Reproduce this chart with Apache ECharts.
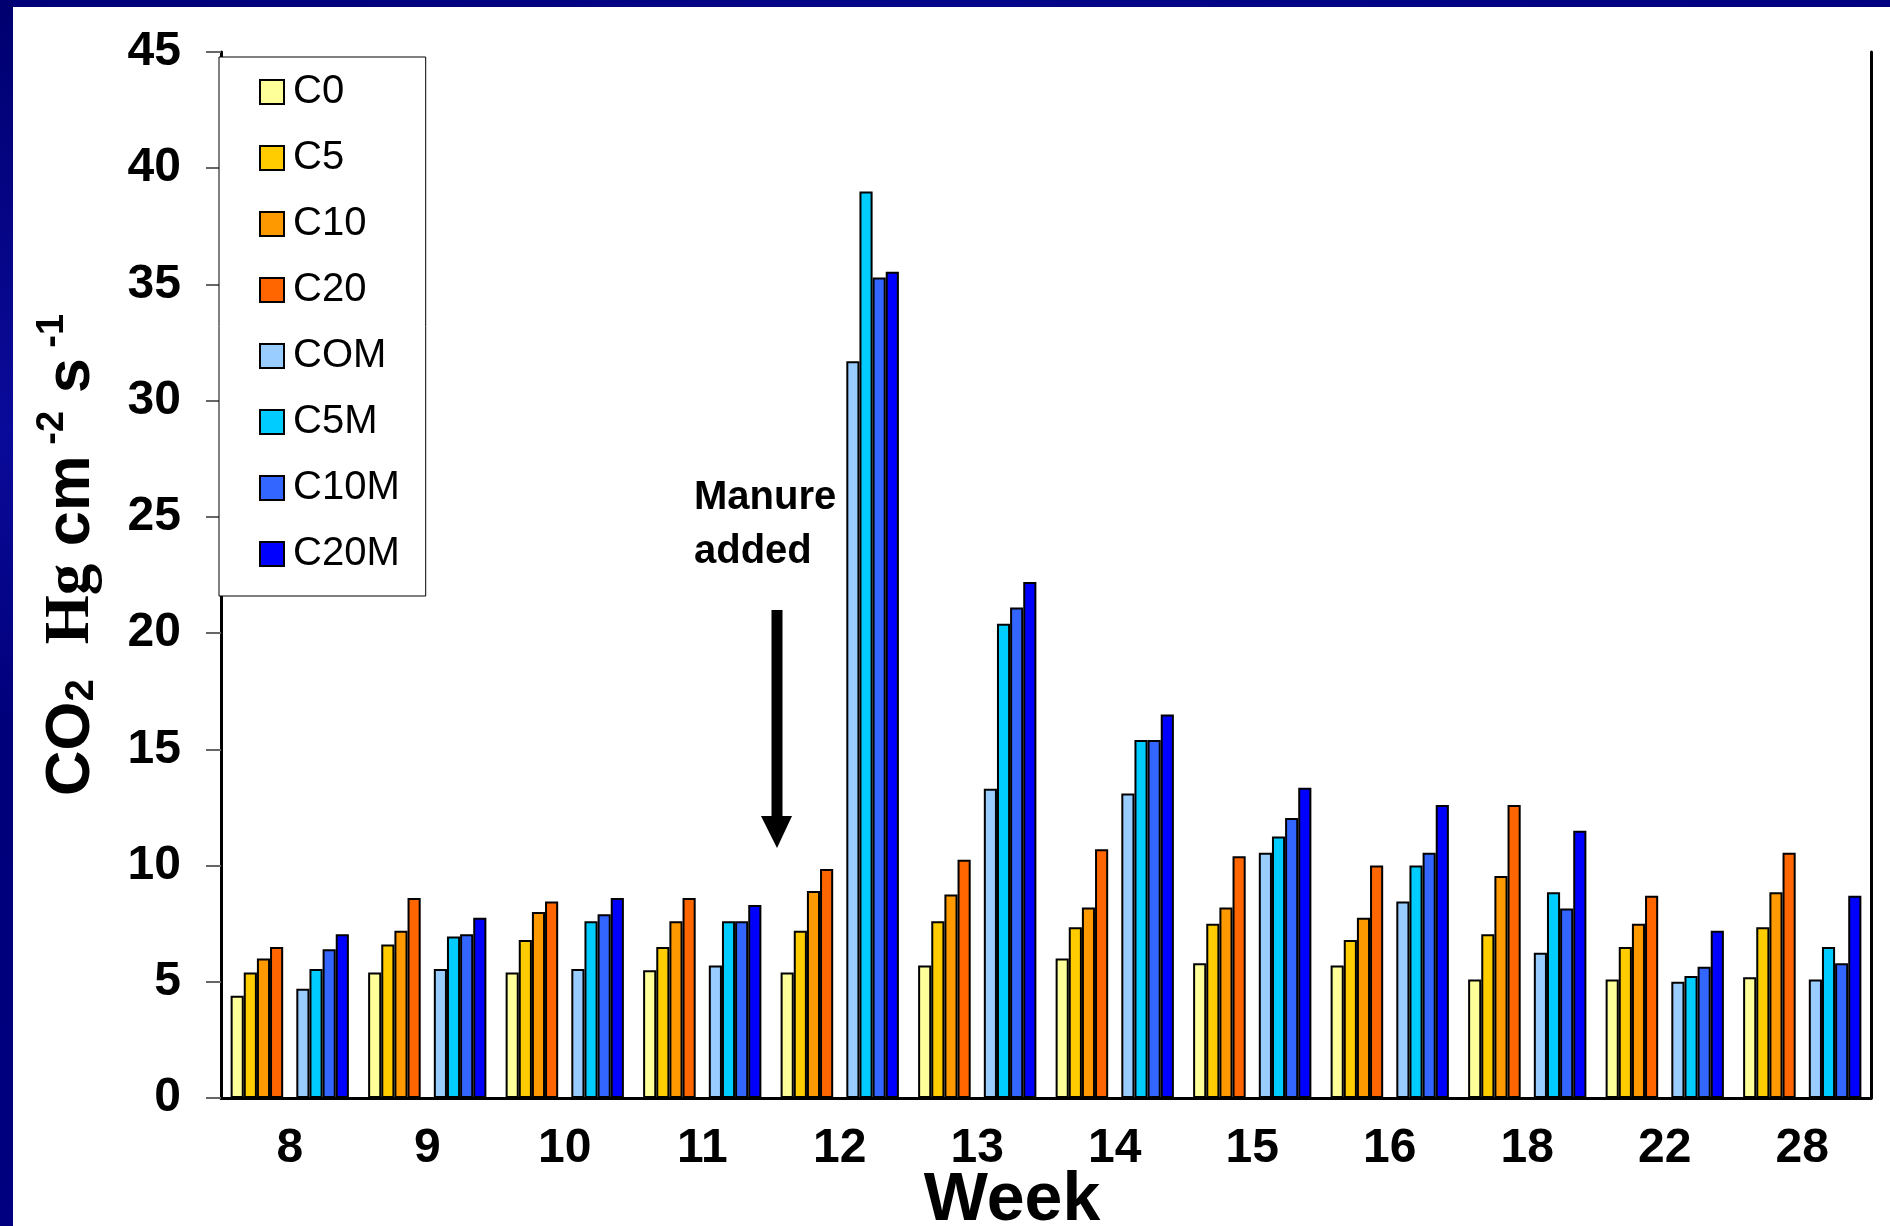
<!DOCTYPE html>
<html>
<head>
<meta charset="utf-8">
<script src="https://cdn.jsdelivr.net/npm/echarts@6/dist/echarts.min.js"></script>
<style>
html,body{margin:0;padding:0;background:#fff;}
#c{width:1890px;height:1226px;}
</style>
</head>
<body>
<div id="c"></div>
<script>
// ---- data ----
const weeks = ['8','9','10','11','12','13','14','15','16','18','22','28'];
const seriesNames = ['C0','C5','C10','C20','COM','C5M','C10M','C20M'];
const C0   = [4.4, 5.4, 5.4, 5.5, 5.4, 5.7, 6.0, 5.8, 5.7, 5.1, 5.1, 5.2];
const C5   = [5.4, 6.6, 6.8, 6.5, 7.2, 7.6, 7.35, 7.5, 6.8, 7.05, 6.5, 7.35];
const C10  = [6.0, 7.2, 8.0, 7.6, 8.9, 8.75, 8.2, 8.2, 7.75, 9.55, 7.5, 8.85];
const C20  = [6.5, 8.6, 8.45, 8.6, 9.85, 10.25, 10.7, 10.4, 10.0, 12.6, 8.7, 10.55];
const COM  = [4.7, 5.55, 5.55, 5.7, 31.7, 13.3, 13.1, 10.55, 8.45, 6.25, 5.0, 5.1];
const C5M  = [5.55, 6.95, 7.6, 7.6, 39.0, 20.4, 15.4, 11.25, 10.0, 8.85, 5.25, 6.5];
const C10M = [6.4, 7.05, 7.9, 7.6, 35.3, 21.1, 15.4, 12.05, 10.55, 8.15, 5.65, 5.8];
const C20M = [7.05, 7.75, 8.6, 8.3, 35.55, 22.2, 16.5, 13.35, 12.6, 11.5, 7.2, 8.7];
const yMin = 0, yMax = 45, yStep = 5;

// ---- styles ----
const FONT = '"Liberation Sans", Arial, sans-serif';
const colors = {
  C0:'#FFFF99', C5:'#FFCC00', C10:'#FF9900', C20:'#FF6600',
  COM:'#99CCFF', C5M:'#00CCFF', C10M:'#3366FF', C20M:'#0000FF'
};

function barSeries(name, data) {
  return {
    name: name, type: 'bar', data: data,
    barGap: '0%', barCategoryGap: '14%',
    itemStyle: { color: colors[name], borderColor: '#000', borderWidth: 2 },
    emphasis: { disabled: true }
  };
}

const chart = echarts.init(document.getElementById('c'), null, { renderer: 'canvas' });

const option = {
  animation: false,
  backgroundColor: '#ffffff',
  grid: { left: 221, top: 52, right: 19, bottom: 128, containLabel: false },
  legend: {
    orient: 'vertical', left: 219, top: 57,
    data: seriesNames,
    icon: 'rect', itemWidth: 24, itemHeight: 24, itemGap: 26,
    padding: [15, 26, 22, 40],
    borderColor: '#000', borderWidth: 1, backgroundColor: '#fff',
    selectedMode: false,
    itemStyle: { borderColor: '#000', borderWidth: 2 },
    textStyle: { fontSize: 40, fontFamily: FONT, color: '#000', lineHeight: 40, padding: [0, 0, 0, 4] }
  },
  xAxis: [
    {
      type: 'category', data: weeks, position: 'bottom',
      axisLine: { lineStyle: { color: '#555', width: 2 } },
      axisTick: { length: 14, lineStyle: { color: '#555', width: 2 } },
      axisLabel: { fontSize: 48, fontWeight: 'bold', fontFamily: FONT, color: '#000', margin: 27 },
      splitLine: { show: false }
    },
    {
      type: 'category', data: weeks, position: 'top',
      axisLine: { lineStyle: { color: '#000', width: 3 } },
      axisTick: { show: false }, axisLabel: { show: false }, splitLine: { show: false }
    }
  ],
  yAxis: [
    {
      type: 'value', min: yMin, max: yMax, interval: yStep,
      axisLine: { show: true, lineStyle: { color: '#000', width: 3 } },
      axisTick: { show: true, length: 15, lineStyle: { color: '#666', width: 2 } },
      axisLabel: { fontSize: 48, fontWeight: 'bold', fontFamily: FONT, color: '#000', margin: 40 },
      splitLine: { show: false }
    },
    {
      type: 'value', min: yMin, max: yMax, interval: yStep, position: 'right',
      axisLine: { show: true, lineStyle: { color: '#000', width: 3 } },
      axisTick: { show: false }, axisLabel: { show: false }, splitLine: { show: false }
    }
  ],
  series: [
    barSeries('C0', C0),
    barSeries('C5', C5),
    barSeries('C10', C10),
    barSeries('C20', C20),
    { name: 'gap', type: 'bar', data: [], barGap: '0%', barCategoryGap: '14%' },
    barSeries('COM', COM),
    barSeries('C5M', C5M),
    barSeries('C10M', C10M),
    barSeries('C20M', C20M)
  ],
  graphic: [
    { type: 'rect', z: 100, shape: { x: 0, y: 0, width: 1890, height: 7 },
      style: { fill: new echarts.graphic.LinearGradient(0, 0, 1, 0, [
        { offset: 0, color: '#000078' }, { offset: 0.5, color: '#06068a' }, { offset: 1, color: '#000080' }]) } },
    { type: 'rect', z: 100, shape: { x: 0, y: 0, width: 13, height: 1226 },
      style: { fill: new echarts.graphic.LinearGradient(0, 0, 0, 1, [
        { offset: 0, color: '#000070' }, { offset: 0.35, color: '#0a0a9a' }, { offset: 0.6, color: '#00007a' }, { offset: 1, color: '#000080' }]) } },
    {
      type: 'text', x: 72, y: 555, rotation: Math.PI / 2, z: 100,
      style: {
        text: '{a|CO}{b|2}{a|  }{h|Hg}{a| cm}{p| -2}{a| s}{p| -1}',
        align: 'center', verticalAlign: 'middle', fill: '#000',
        rich: {
          a: { fontSize: 63, fontWeight: 'bold', fontFamily: FONT, lineHeight: 76 },
          b: { fontSize: 40, fontWeight: 'bold', fontFamily: FONT, lineHeight: 76, verticalAlign: 'bottom', padding: [0, 0, 8, 0] },
          h: { fontSize: 63, fontWeight: 'bold', fontFamily: '"Liberation Serif", serif', lineHeight: 76 },
          p: { fontSize: 38, fontWeight: 'bold', fontFamily: FONT, lineHeight: 76, verticalAlign: 'top' }
        }
      }
    },
    {
      type: 'text', x: 1012, y: 1201, z: 100,
      style: { text: 'Week', fontSize: 68, fontWeight: 'bold', fontFamily: FONT, fill: '#000', align: 'center', verticalAlign: 'middle' }
    },
    {
      type: 'text', x: 694, y: 471, z: 100,
      style: { text: 'Manure\nadded', fontSize: 40, fontWeight: 'bold', fontFamily: FONT, lineHeight: 54, fill: '#000', align: 'left', verticalAlign: 'top' }
    },
    { type: 'rect', z: 100, shape: { x: 771.5, y: 610, width: 11, height: 210 }, style: { fill: '#000' } },
    { type: 'polygon', z: 100, shape: { points: [[761, 816], [792, 816], [777, 848]] }, style: { fill: '#000' } }
  ]
};
chart.setOption(option);
</script>
</body>
</html>
